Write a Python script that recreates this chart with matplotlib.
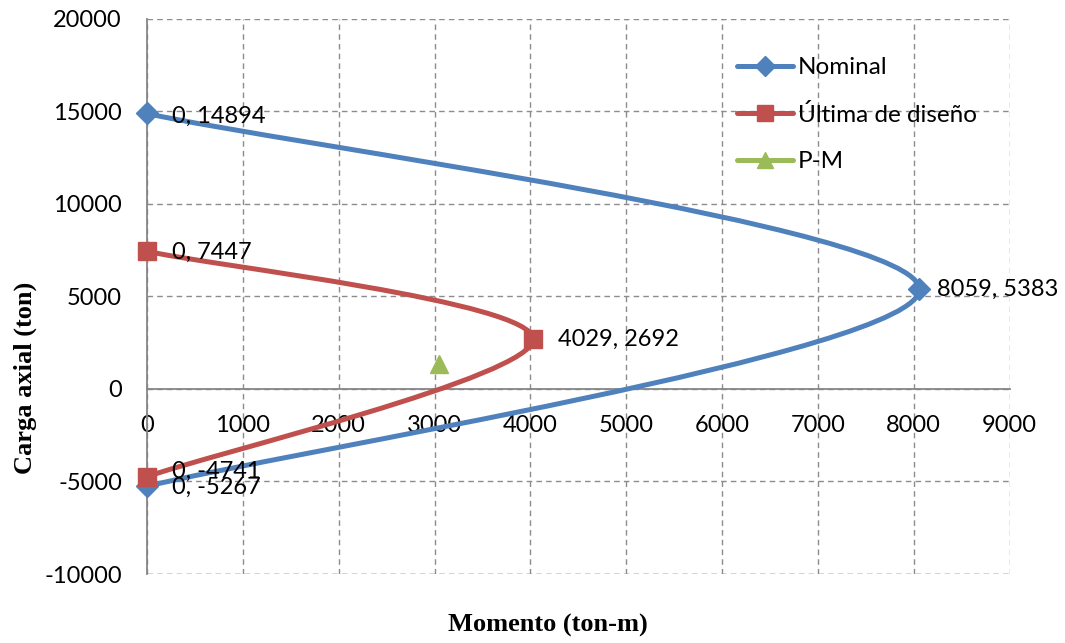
import matplotlib.pyplot as plt
import numpy as np
from matplotlib.path import Path
from matplotlib.patches import PathPatch
from matplotlib.lines import Line2D

# datos del diagrama de interaccion
nominal_m = [0, 8059, 0]
nominal_p = [14894, 5383, -5267]
ultima_m = [0, 4029, 0]
ultima_p = [7447, 2692, -4741]
pm_m = [3045]
pm_p = [1350]

x_ticks = [0, 1000, 2000, 3000, 4000, 5000, 6000, 7000, 8000, 9000]
y_ticks = [-10000, -5000, 0, 5000, 10000, 15000, 20000]

c_nom = '#4F81BD'
c_ult = '#C0504D'
c_pm = '#9BBB59'

plt.rcParams['font.family'] = ['Lato', 'DejaVu Sans']
plt.rcParams['axes.unicode_minus'] = False


def smooth_path(xs, ys):
    """Linea suavizada tipo Excel (Catmull-Rom -> Bezier) entre los puntos"""
    pts = np.column_stack([xs, ys]).astype(float)
    n = len(pts)
    verts = [pts[0]]
    codes = [Path.MOVETO]
    for i in range(n - 1):
        p_prev = pts[i - 1] if i > 0 else pts[i]
        p_next = pts[i + 2] if i + 2 < n else pts[i + 1]
        c1 = pts[i] + (pts[i + 1] - p_prev) / 6.0
        c2 = pts[i + 1] - (p_next - pts[i]) / 6.0
        verts += [c1, c2, pts[i + 1]]
        codes += [Path.CURVE4] * 3
    return Path(verts, codes)


fig = plt.figure(figsize=(10.65, 6.43), dpi=100)
ax = fig.add_axes([0.138, 0.1073, 0.810, 0.8632])

ax.set_xlim(0, 9000)
ax.set_ylim(-10000, 20000)
ax.set_xticks(x_ticks)
ax.set_yticks(y_ticks)
ax.grid(True, linestyle=(0, (4, 3)), color='#8C8C8C', linewidth=1.0)
ax.set_axisbelow(True)

for s in ['top', 'right']:
    ax.spines[s].set_visible(False)
ax.spines['bottom'].set_position(('data', 0))
ax.spines['bottom'].set_color('#868686')
ax.spines['bottom'].set_linewidth(1.3)
ax.spines['left'].set_color('#868686')
ax.spines['left'].set_linewidth(1.3)
ax.tick_params(axis='both', length=0, labelsize=17)
ax.tick_params(axis='y', pad=18)
ax.tick_params(axis='x', pad=19)

# linea de la cuadricula inferior (y = -10000)
ax.axhline(-10000, linestyle=(0, (4, 3)), color='#8C8C8C', linewidth=1.0, zorder=0.5)

series = [
    (nominal_m, nominal_p, c_nom, 'D', 11, 'Nominal'),
    (ultima_m, ultima_p, c_ult, 's', 13, 'Última de diseño'),
]
handles = []
for xs, ys, col, mk, ms, lab in series:
    patch = PathPatch(smooth_path(xs, ys), facecolor='none', edgecolor=col,
                      linewidth=3.6, capstyle='round', zorder=3)
    ax.add_patch(patch)
    ax.plot(xs, ys, linestyle='none', marker=mk, markersize=ms, color=col,
            zorder=4, clip_on=False)
    handles.append(Line2D([], [], color=col, linewidth=3.6, marker=mk,
                          markersize=ms * 0.9, solid_capstyle='round'))

ax.plot(pm_m, pm_p, linestyle='none', marker='^', markersize=13, color=c_pm, zorder=4)
handles.append(Line2D([], [], color=c_pm, linewidth=3.6, marker='^',
                      markersize=12, solid_capstyle='round'))

ax.legend(handles, ['Nominal', 'Última de diseño', 'P-M'], loc='upper left',
          bbox_to_anchor=(0.684, 0.931), frameon=False, fontsize=17.5,
          borderpad=0, borderaxespad=0,
          handlelength=2.3, handletextpad=0.2, labelspacing=1.05)

# etiquetas de datos
etiquetas = [
    (nominal_m, nominal_p, [18, 13, 18], [-2, 0, -1]),
    (ultima_m, ultima_p, [18, 18, 18], [-1, 0, 4]),
]
for xs, ys, dxs, dys in etiquetas:
    for x, y, dx, dy in zip(xs, ys, dxs, dys):
        ax.annotate(f'{x}, {y}', (x, y), xytext=(dx, dy), textcoords='offset points',
                    ha='left', va='center', fontsize=17, zorder=5)

fig.text(0.0235, 1 - 378 / 643, 'Carga axial (ton)', rotation=90, ha='center',
         va='center', fontsize=19, fontweight='bold', family='Liberation Serif')
fig.text(548 / 1065, 1 - 625 / 643, 'Momento (ton-m)', ha='center', va='center',
         fontsize=19, fontweight='bold', family='Liberation Serif')

fig.savefig('out.png', dpi=100)
